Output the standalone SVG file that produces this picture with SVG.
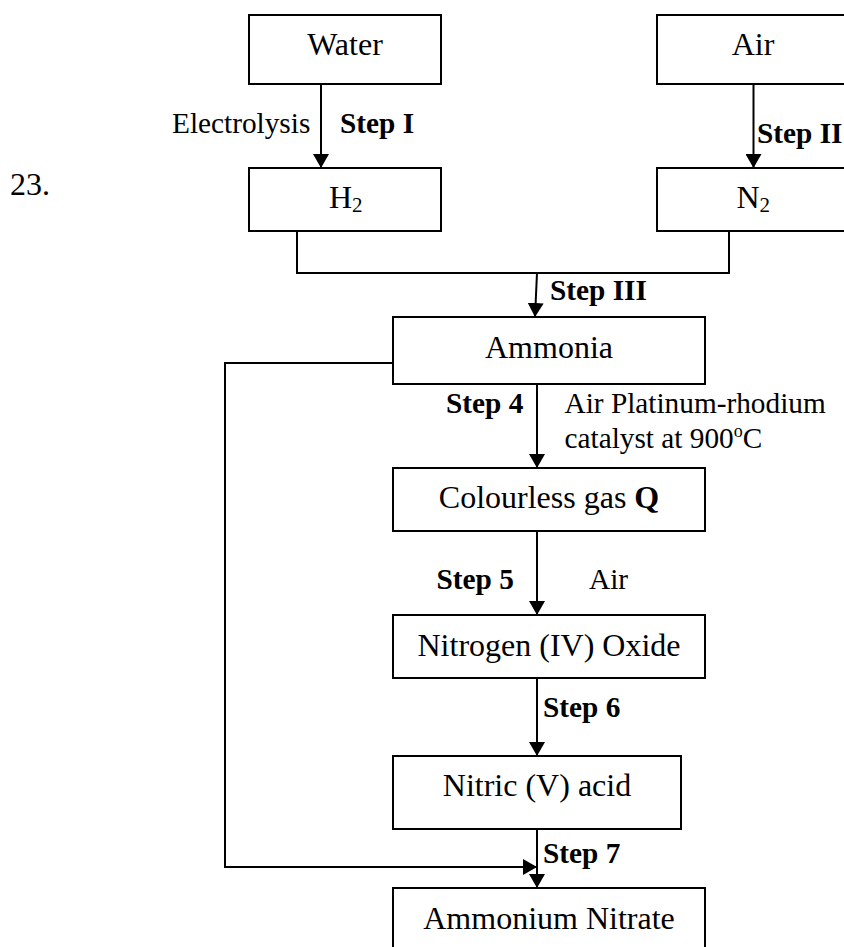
<svg xmlns="http://www.w3.org/2000/svg" width="844" height="947" viewBox="0 0 844 947">
<style>
  .box { fill: #fff; stroke: #000; stroke-width: 2; }
  .t { font-family: "Liberation Serif", "Times New Roman", serif; font-size: 32px; fill: #000; }
  .c { text-anchor: middle; }
  .lbl { font-family: "Liberation Serif", "Times New Roman", serif; font-size: 29.3px; fill: #000; }
  .b { font-weight: bold; }
  .ln { fill: none; stroke: #000; stroke-width: 2; }
  .arr { marker-end: url(#ah); }
</style>
<defs>
  <marker id="ah" viewBox="0 0 14 16" refX="14" refY="8" markerWidth="14" markerHeight="16" markerUnits="userSpaceOnUse" orient="auto">
    <path d="M0,0 L14,8 L0,16 z" fill="#000"/>
  </marker>
</defs>
<rect width="844" height="947" fill="#fff"/>
<text class="t" x="10" y="195" font-size="31">23.</text>

<g id="connectors">
  <line class="ln arr" x1="321" y1="84" x2="321" y2="168"/>
  <line class="ln arr" x1="753.5" y1="84" x2="753.5" y2="168"/>
  <polyline class="ln" points="297,231 297,273 729,273 729,231"/>
  <line class="ln arr" x1="537" y1="273" x2="535" y2="317"/>
  <line class="ln arr" x1="537" y1="384" x2="537" y2="468"/>
  <line class="ln arr" x1="537" y1="531" x2="537" y2="615"/>
  <line class="ln arr" x1="537" y1="678" x2="537" y2="756"/>
  <line class="ln arr" x1="537" y1="816" x2="537" y2="888"/>
  <polyline class="ln arr" points="393,363 225,363 225,867 537,867"/>
</g>

<g id="labels">
  <text class="lbl" x="172" y="133">Electrolysis</text>
  <text class="lbl b" x="340" y="133">Step I</text>
  <text class="lbl b" x="757" y="142.5">Step II</text>
  <text class="lbl b" x="550" y="300">Step III</text>
  <text class="lbl b" x="446" y="413">Step 4</text>
  <text class="lbl" x="564.5" y="413">Air Platinum-rhodium</text>
  <text class="lbl" x="564.5" y="448">catalyst at 900<tspan font-size="18" dy="-11">o</tspan><tspan dy="11">C</tspan></text>
  <text class="lbl b" x="436.5" y="589">Step 5</text>
  <text class="lbl" x="589" y="589">Air</text>
  <text class="lbl b" x="543" y="717">Step 6</text>
  <text class="lbl b" x="543" y="863">Step 7</text>
</g>

<g id="water">
  <rect class="box" x="249" y="15" width="192" height="69"/>
  <text class="t c" x="345" y="55">Water</text>
</g>
<g id="air">
  <rect class="box" x="657" y="15" width="192" height="69"/>
  <text class="t c" x="753" y="55">Air</text>
</g>
<g id="h2">
  <rect class="box" x="249" y="168" width="192" height="63"/>
  <text class="t" x="329" y="208">H<tspan font-size="21" dy="4">2</tspan></text>
</g>
<g id="n2">
  <rect class="box" x="657" y="168" width="192" height="63"/>
  <text class="t" x="736.5" y="208">N<tspan font-size="21" dy="4">2</tspan></text>
</g>
<g id="ammonia">
  <rect class="box" x="393" y="317" width="312" height="67"/>
  <text class="t c" x="549" y="358">Ammonia</text>
</g>
<g id="gasq">
  <rect class="box" x="393" y="468" width="312" height="63"/>
  <text class="t c" x="549" y="508">Colourless gas <tspan class="b">Q</tspan></text>
</g>
<g id="no2">
  <rect class="box" x="393" y="615" width="312" height="63"/>
  <text class="t c" x="549" y="656">Nitrogen (IV) Oxide</text>
</g>
<g id="nitric">
  <rect class="box" x="393" y="756" width="288" height="73"/>
  <text class="t c" x="537" y="796">Nitric (V) acid</text>
</g>
<g id="ammonium-nitrate">
  <rect class="box" x="393" y="888" width="312" height="70"/>
  <text class="t c" x="549" y="929">Ammonium Nitrate</text>
</g>
</svg>
